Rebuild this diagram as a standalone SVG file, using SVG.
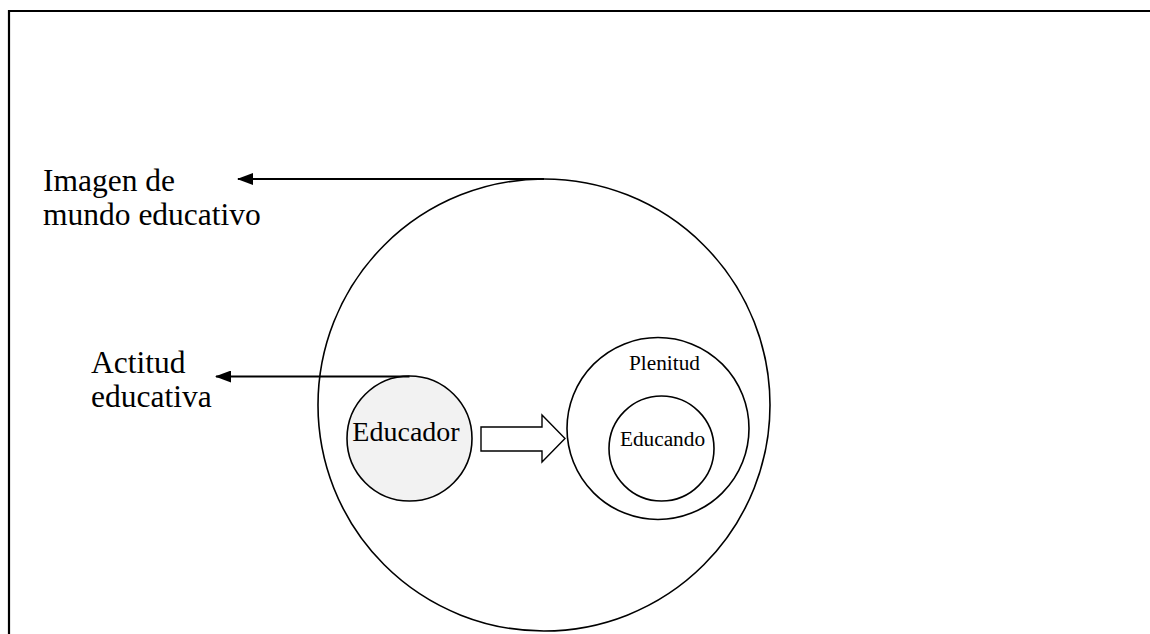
<svg xmlns="http://www.w3.org/2000/svg" width="1150" height="634" viewBox="0 0 1150 634">
<style>
text{font-family:'Liberation Serif','Times New Roman',serif;fill:#000}
.lbl{font-size:31.5px}
.in{text-anchor:middle}
.c{fill:none;stroke:#000;stroke-width:1.6}
.con{stroke:#000;stroke-width:2.2;fill:none}
</style>
<defs>
<marker id="ah" viewBox="0 0 16 12" refX="15" refY="6" markerWidth="16" markerHeight="12" markerUnits="userSpaceOnUse" orient="auto">
<path d="M16,6 L0,0 L0,12 Z" fill="#000"/>
</marker>
</defs>
<rect x="0" y="0" width="1150" height="634" fill="#fff"/>
<g id="frame">
<path d="M9,634 L9,11 L1150,11" fill="none" stroke="#000" stroke-width="2.2"/>
</g>
<g id="mundo">
<circle class="c" cx="544" cy="405" r="226"/>
</g>
<g id="educador">
<circle cx="409.5" cy="438.5" r="62.5" fill="#f2f2f2" stroke="#000" stroke-width="1.6"/>
<text class="in" x="406" y="441" font-size="28" font-family="Liberation Serif, serif">Educador</text>
</g>
<g id="plenitud">
<circle class="c" cx="658" cy="428.5" r="91"/>
<text class="in" x="664.5" y="370" font-size="21.3" font-family="Liberation Serif, serif">Plenitud</text>
</g>
<g id="educando">
<circle class="c" cx="661.5" cy="448.5" r="52.5"/>
<text class="in" x="662.5" y="446" font-size="21.3" font-family="Liberation Serif, serif">Educando</text>
</g>
<g id="labels">
<text class="lbl" x="43" y="191" font-family="Liberation Serif, serif">Imagen de</text>
<text class="lbl" x="43" y="225" font-family="Liberation Serif, serif">mundo educativo</text>
<text class="lbl" x="91" y="372.5" font-family="Liberation Serif, serif">Actitud</text>
<text class="lbl" x="91" y="407" font-family="Liberation Serif, serif">educativa</text>
</g>
<g id="connectors">
<line class="con" x1="544" y1="179" x2="238" y2="179" marker-end="url(#ah)"/>
<line class="con" x1="409.5" y1="376.5" x2="216" y2="376.5" marker-end="url(#ah)"/>
<path d="M481,427 L542,427 L542,415 L565,438.5 L542,462 L542,451 L481,451 Z" fill="#fff" stroke="#000" stroke-width="1.4"/>
</g>
</svg>
